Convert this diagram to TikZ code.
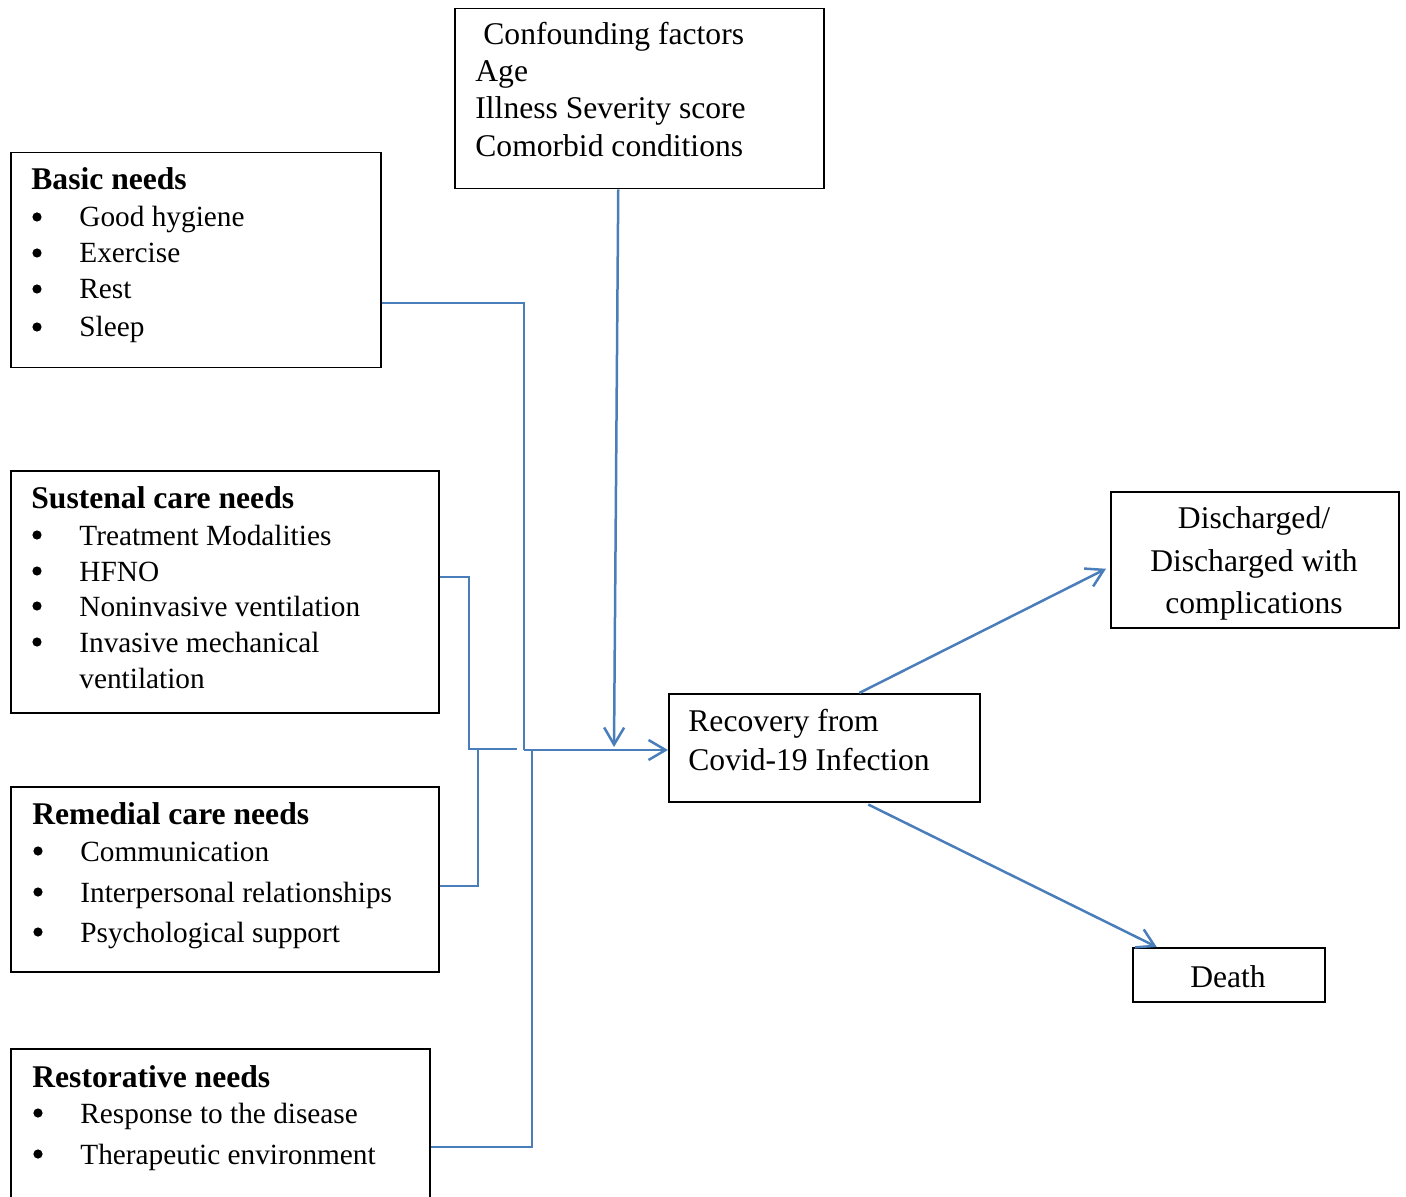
\documentclass[tikz,border=0pt]{standalone}
\usepackage{fontspec}
\setmainfont{Liberation Serif}
\usetikzlibrary{arrows.meta,calc}
\definecolor{lineblue}{HTML}{4A7EBB}
\tikzset{
  box/.style={draw=black, line width=0.75pt, rectangle, inner sep=0pt, anchor=north west},
  txt/.style={inner sep=0pt, anchor=base west, font=\fontsize{15.8pt}{18.5pt}\selectfont},
  itxt/.style={inner sep=0pt, anchor=base west, font=\fontsize{14.65pt}{18pt}\selectfont},
  ctxt/.style={inner sep=0pt, anchor=base, font=\fontsize{15.8pt}{18.5pt}\selectfont},
  conn/.style={draw=lineblue, line width=1.25pt},
  arr/.style={conn, -{Straight Barb[length=8.5pt,width=10pt,line width=1.25pt]}},
  bulletdot/.style={fill=black}
}
% \bitem{name}{left x}{baseline y}{text}
\newcommand\bitem[4]{%
  \fill[bulletdot] (#2+6,#3-10) circle[radius=2.3pt];
  \node[itxt] (#1) at (#2+48,#3) {#4};}
\begin{document}
\begin{tikzpicture}[x=0.5pt,y=-0.5pt]
\useasboundingbox (0,0) rectangle (1406,1197);
% boxes
\node[box, minimum width=369*0.5pt, minimum height=180*0.5pt] (conf) at (454,8) {};
\node[box, minimum width=370*0.5pt, minimum height=215*0.5pt] (basic) at (10,152) {};
\node[box, minimum width=428*0.5pt, minimum height=242*0.5pt] (sus) at (10,470) {};
\node[box, minimum width=428*0.5pt, minimum height=185*0.5pt] (rem) at (10,786) {};
\begin{scope}
\clip (0,0) rectangle (1406,1197);
\node[box, minimum width=419*0.5pt, minimum height=180*0.5pt] (res) at (10,1048) {};
\end{scope}
\node[box, minimum width=311*0.5pt, minimum height=108*0.5pt] (rec) at (668,693) {};
\node[box, minimum width=288*0.5pt, minimum height=136*0.5pt] (dis) at (1110,491) {};
\node[box, minimum width=192*0.5pt, minimum height=54*0.5pt] (death) at (1132,947) {};
% texts
\node[txt] (c1) at (483,45) {Confounding factors};
\node[txt] (c2) at (475,82) {Age};
\node[txt] (c3) at (475,119) {Illness Severity score};
\node[txt] (c4) at (475,157) {Comorbid conditions};
\node[txt] (b0) at (31,190) {\textbf{Basic needs}};
\bitem{b1}{31}{227}{Good hygiene}
\bitem{b2}{31}{263}{Exercise}
\bitem{b3}{31}{299}{Rest}
\bitem{b4}{31}{337}{Sleep}
\node[txt] (s0) at (31,508) {\textbf{Sustenal care needs}};
\bitem{s1}{31}{545}{Treatment Modalities}
\bitem{s2}{31}{581}{HFNO}
\bitem{s3}{31}{616}{Noninvasive ventilation}
\bitem{s4}{31}{652}{Invasive mechanical}
\node[itxt] (s5) at (79,688) {ventilation};
\node[txt] (r0) at (32,824) {\textbf{Remedial care needs}};
\bitem{r1}{32}{861}{Communication}
\bitem{r2}{32}{902}{Interpersonal relationships}
\bitem{r3}{32}{942}{Psychological support}
\node[txt] (t0) at (32,1087) {\textbf{Restorative needs}};
\bitem{t1}{32}{1123}{Response to the disease}
\bitem{t2}{32}{1164}{Therapeutic environment}
\node[txt] (v1) at (688,731) {Recovery from};
\node[txt] (v2) at (688,770) {Covid-19 Infection};
\node[ctxt] (d1) at (1254,528) {Discharged/};
\node[ctxt] (d2) at (1254,571) {Discharged with};
\node[ctxt] (d3) at (1254,613) {complications};
\node[ctxt] (dd) at (1228,987) {Death};
% junction coordinates
\coordinate (jb) at (524,750);
\coordinate (js) at (469,749);
\coordinate (jr) at (478,749);
\coordinate (jt) at (532,750);
\coordinate (jc) at (614,747);
% connectors
\draw[conn] ($(basic.north east)+(0,151)$) -| (jb);
\draw[arr] (jb) -- (rec.west |- jb);
\draw[arr] ($(conf.south)+(-21,0)$) -- (jc);
\draw[conn] ($(sus.north east)+(0,107)$) -| (js) -- ++(48,0);
\draw[conn] ($(rem.north east)+(0,100)$) -| (jr);
\draw[conn] ($(res.north east)+(0,99)$) -| (jt);
\draw[arr] ($(rec.north)+(35,0)$) -- ($(dis.west)+(-4,9)$);
\draw[arr] ($(rec.south)+(44,2)$) -- ($(death.north)+(-72,0)$);
\end{tikzpicture}
\end{document}
